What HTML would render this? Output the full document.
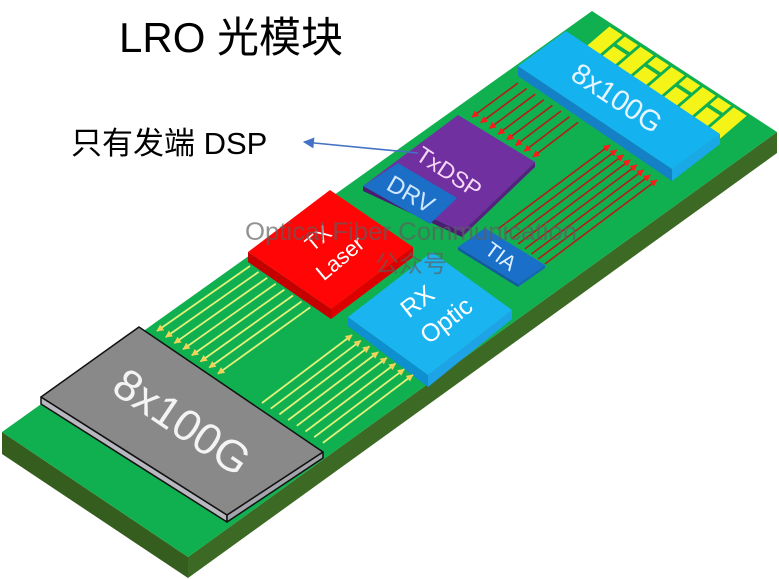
<!DOCTYPE html>
<html><head><meta charset="utf-8"><style>
html,body{margin:0;padding:0;background:#fff;}
svg{display:block;}
text{font-family:"Liberation Sans","Noto Sans CJK SC",sans-serif;}
</style></head><body>
<svg width="779" height="579" viewBox="0 0 779 579" xmlns="http://www.w3.org/2000/svg">
<defs>
<marker id="ar" viewBox="0 0 10 10" refX="9" refY="5" markerWidth="8" markerHeight="7" markerUnits="userSpaceOnUse" orient="auto"><path d="M0,0 L10,5 L0,10 z" fill="#ff1a1a"/></marker>
<marker id="ay" viewBox="0 0 10 10" refX="9" refY="5" markerWidth="8" markerHeight="7" markerUnits="userSpaceOnUse" orient="auto"><path d="M0,0 L10,5 L0,10 z" fill="#f2d35a"/></marker>
<marker id="ab" viewBox="0 0 10 10" refX="9" refY="5" markerWidth="14" markerHeight="11" markerUnits="userSpaceOnUse" orient="auto"><path d="M0,0 L10,5 L0,10 z" fill="#4472c4"/></marker>
</defs>

<!-- board -->
<polygon points="2,432 188,557 188,578 2,454" fill="#355e1e"/>
<polygon points="188,557 777,132 777,153 188,578" fill="#3c6923"/>
<polygon points="2,432 592,11 777,132 188,557" fill="#10b050"/>

<!-- yellow pads -->
<g transform="matrix(140,91,21,-18,588,43)" fill="#f4f418">
<rect x="0.009" y="-0.3" width="0.093" height="1.26"/>
<rect x="0.120" y="-0.3" width="0.093" height="0.72"/><rect x="0.120" y="0.56" width="0.093" height="0.40"/>
<rect x="0.231" y="-0.3" width="0.093" height="1.26"/>
<rect x="0.342" y="-0.3" width="0.093" height="0.72"/><rect x="0.342" y="0.56" width="0.093" height="0.40"/>
<rect x="0.453" y="-0.3" width="0.093" height="1.26"/>
<rect x="0.564" y="-0.3" width="0.093" height="0.72"/><rect x="0.564" y="0.56" width="0.093" height="0.40"/>
<rect x="0.675" y="-0.3" width="0.093" height="1.26"/>
<rect x="0.786" y="-0.3" width="0.093" height="0.72"/><rect x="0.786" y="0.56" width="0.093" height="0.40"/>
<rect x="0.897" y="-0.3" width="0.093" height="1.26"/>
</g>

<!-- red arrows group 1 -->
<g stroke="#b41e14" stroke-width="1.6" marker-end="url(#ar)">
<line x1="518" y1="83" x2="472" y2="117"/>
<line x1="526.6" y1="88.6" x2="480.7" y2="122.7"/>
<line x1="535.2" y1="94.2" x2="489.4" y2="128.4"/>
<line x1="543.8" y1="99.8" x2="498.1" y2="134.1"/>
<line x1="552.4" y1="105.4" x2="506.8" y2="139.8"/>
<line x1="561" y1="111" x2="515.5" y2="145.5"/>
<line x1="569.6" y1="116.6" x2="524.2" y2="151.2"/>
<line x1="578.2" y1="122.2" x2="532.9" y2="156.9"/>
</g>

<!-- blue connector block -->
<polygon points="518,66 672,169 672,181 518,76" fill="#1481c6"/>
<polygon points="672,169 720,134 720,144 672,181" fill="#1aa8e6"/>
<polygon points="566,31 720,134 672,169 518,66" fill="#14b2ee"/>
<text x="617" y="108" font-size="29" fill="#e6f6ff" text-anchor="middle" transform="rotate(33.5 617 98)">8x100G</text>

<!-- purple TxDSP -->
<polygon points="363,186 462,232 462,237 363,191" fill="#4a1c72"/>
<polygon points="462,232 535,162 535,167 462,237" fill="#55227f"/>
<polygon points="363,186 458,115 535,162 462,232" fill="#7030a0"/>
<polygon points="363,186 398,163 457,198 430,224" fill="#1b6fc6"/>
<text x="449" y="180" font-size="23" fill="#f6d8f6" text-anchor="middle" transform="rotate(33.5 449 172)">TxDSP</text>
<text x="411" y="202.5" font-size="24" fill="#cfe8ff" text-anchor="middle" transform="rotate(30 411 194)">DRV</text>

<!-- TIA -->
<polygon points="458,247 518,284 518,287 458,250" fill="#145aa0"/>
<polygon points="518,284 545,265 545,268 518,287" fill="#1766b4"/>
<polygon points="458,247 485,228 545,265 518,284" fill="#1a70c8"/>
<text x="501" y="263.5" font-size="21" fill="#dff0ff" text-anchor="middle" transform="rotate(36 501 256)">TIA</text>

<!-- red arrows group 2 -->
<g stroke="#b41e14" stroke-width="1.6" marker-end="url(#ar)">
<line x1="498" y1="229" x2="610" y2="145"/>
<line x1="504.7" y1="234" x2="616.7" y2="150"/>
<line x1="511.4" y1="239" x2="623.4" y2="155"/>
<line x1="518.1" y1="244" x2="630.1" y2="160"/>
<line x1="524.8" y1="249" x2="636.8" y2="165"/>
<line x1="531.5" y1="254" x2="643.5" y2="170"/>
<line x1="538.2" y1="259" x2="650.2" y2="175"/>
<line x1="544.9" y1="264" x2="656.9" y2="180"/>
</g>

<!-- TX Laser -->
<polygon points="248,252 331,309 331,319 248,262" fill="#c40000"/>
<polygon points="331,309 413,247 413,257 331,319" fill="#dc0000"/>
<polygon points="248,252 330,190 413,247 331,309" fill="#ff0505"/>
<text x="318" y="245.5" font-size="21" fill="#ffffff" text-anchor="middle" transform="rotate(-40 318 238)">TX</text>
<text x="340" y="265.5" font-size="22" fill="#ffffff" text-anchor="middle" transform="rotate(-40 340 258)">Laser</text>

<!-- RX Optic -->
<polygon points="348,317 428,375 428,387 348,326" fill="#0e8fd0"/>
<polygon points="428,375 512,310 512,319 428,387" fill="#1ea4e6"/>
<polygon points="348,317 432,252 512,310 428,375" fill="#1ab4f0"/>
<text x="417" y="310" font-size="25" fill="#ffffff" text-anchor="middle" transform="rotate(-38 417 301)">RX</text>
<text x="446" y="329" font-size="25" fill="#ffffff" text-anchor="middle" transform="rotate(-38 446 320)">Optic</text>

<!-- yellow arrows group 1 -->
<g stroke="#e4f27a" stroke-width="1.8" marker-end="url(#ay)">
<line x1="250" y1="266" x2="157" y2="331"/>
<line x1="258.6" y1="271.9" x2="165.7" y2="337.1"/>
<line x1="267.2" y1="277.8" x2="174.4" y2="343.2"/>
<line x1="275.8" y1="283.7" x2="183.1" y2="349.3"/>
<line x1="284.4" y1="289.6" x2="191.8" y2="355.4"/>
<line x1="293" y1="295.5" x2="200.5" y2="361.5"/>
<line x1="301.6" y1="301.4" x2="209.2" y2="367.6"/>
<line x1="310.2" y1="307.3" x2="217.9" y2="373.7"/>
</g>

<!-- yellow arrows group 2 -->
<g stroke="#e4f27a" stroke-width="1.8" marker-end="url(#ay)">
<line x1="262" y1="403" x2="352" y2="335"/>
<line x1="270.7" y1="408.7" x2="360.7" y2="340.7"/>
<line x1="279.4" y1="414.4" x2="369.4" y2="346.4"/>
<line x1="288.1" y1="420.1" x2="378.1" y2="352.1"/>
<line x1="296.8" y1="425.8" x2="386.8" y2="357.8"/>
<line x1="305.5" y1="431.5" x2="395.5" y2="363.5"/>
<line x1="314.2" y1="437.2" x2="404.2" y2="369.2"/>
<line x1="322.9" y1="442.9" x2="412.9" y2="374.9"/>
</g>

<!-- gray chip -->
<g stroke="#111" stroke-width="1.5" stroke-linejoin="round">
<polygon points="41,397 227,515 227,522 41,404" fill="#b8b8c0"/>
<polygon points="227,515 323,452 323,458 227,522" fill="#a4a4ac"/>
<polygon points="139,327 323,452 227,515 41,397" fill="#898989"/>
</g>
<text x="182" y="437" font-size="44" fill="#f4f4f4" text-anchor="middle" transform="rotate(34 182 422)">8x100G</text>

<!-- watermark -->
<g fill="#5e5e5e" opacity="0.68">
<text x="245" y="240" font-size="25" textLength="332" lengthAdjust="spacingAndGlyphs">Optical Fiber Communication</text>
<text x="375" y="272" font-size="24">公众号</text>
</g>

<!-- labels -->
<text x="119" y="52" font-size="42" fill="#000">LRO 光模块</text>
<text x="71" y="154" font-size="31" fill="#000">只有发端 DSP</text>

<!-- blue pointer arrow -->
<line x1="418" y1="153" x2="304" y2="142" stroke="#4472c4" stroke-width="1.6" marker-end="url(#ab)"/>
</svg>
</body></html>
